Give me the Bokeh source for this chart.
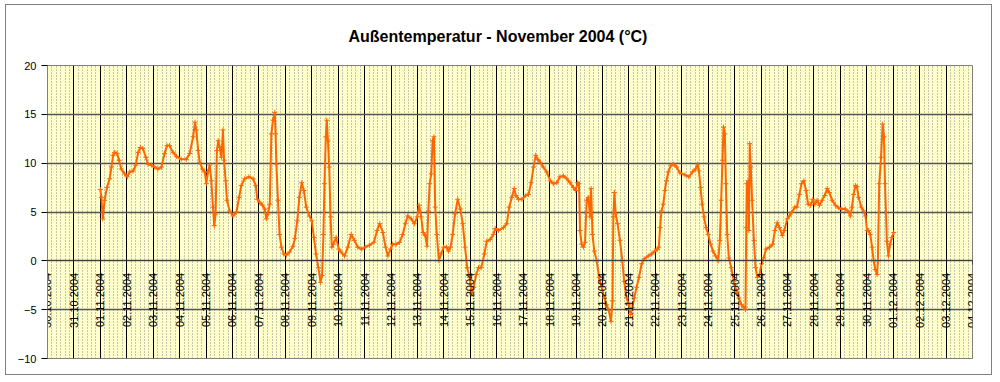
import math
from bokeh.plotting import figure
from bokeh.models import FixedTicker, Range1d
from bokeh.embed import file_html
from bokeh.resources import INLINE

# Category labels of the x axis (one per day, 30.10.2004 ... 04.12.2004)
day_labels = [
    "30.10.2004", "31.10.2004",
    "01.11.2004", "02.11.2004", "03.11.2004", "04.11.2004", "05.11.2004",
    "06.11.2004", "07.11.2004", "08.11.2004", "09.11.2004", "10.11.2004",
    "11.11.2004", "12.11.2004", "13.11.2004", "14.11.2004", "15.11.2004",
    "16.11.2004", "17.11.2004", "18.11.2004", "19.11.2004", "20.11.2004",
    "21.11.2004", "22.11.2004", "23.11.2004", "24.11.2004", "25.11.2004",
    "26.11.2004", "27.11.2004", "28.11.2004", "29.11.2004", "30.11.2004",
    "01.12.2004", "02.12.2004", "03.12.2004", "04.12.2004",
]

# Measurement time as fractional day of November 2004 (1.0 = 01.11. 00:00)
tag = [
    1.00, 1.04, 1.09, 1.16, 1.25, 1.35, 1.42, 1.48, 1.54, 1.63, 1.71, 1.79, 1.92,
    2.02, 2.11, 2.24, 2.34, 2.43, 2.51, 2.61, 2.72, 2.80, 2.93,
    3.06, 3.18, 3.31, 3.43, 3.52, 3.62, 3.75, 3.88,
    4.06, 4.25, 4.38, 4.51, 4.58, 4.63, 4.70, 4.76, 4.86, 4.95,
    5.01, 5.07, 5.14, 5.20, 5.26, 5.31, 5.36, 5.41, 5.46, 5.52, 5.58, 5.64, 5.68,
    5.74, 5.79, 5.89,
    6.02, 6.15, 6.25, 6.33, 6.46, 6.62, 6.78, 6.88, 6.94,
    7.03, 7.13, 7.22, 7.28, 7.34, 7.41, 7.47, 7.53, 7.60, 7.63, 7.66, 7.72, 7.78,
    7.85, 7.94,
    8.04, 8.16, 8.29, 8.36, 8.45, 8.53, 8.62, 8.70, 8.79, 8.91,
    9.00, 9.08, 9.16, 9.25, 9.33, 9.39, 9.44, 9.48, 9.53, 9.57, 9.61, 9.66, 9.71,
    9.76, 9.82, 9.92,
    10.02, 10.11, 10.24, 10.36, 10.49, 10.61, 10.74, 10.89,
    11.02, 11.18, 11.35, 11.47, 11.57, 11.69, 11.79, 11.88, 11.98,
    12.06, 12.19, 12.32, 12.44, 12.54, 12.63, 12.76, 12.88, 12.99,
    13.06, 13.14, 13.21, 13.29, 13.36, 13.41, 13.46, 13.52, 13.57, 13.62, 13.67,
    13.73, 13.81, 13.89, 13.99,
    14.10, 14.17, 14.25, 14.33, 14.42, 14.52, 14.62, 14.71, 14.80, 14.88, 14.97,
    15.05, 15.13, 15.22, 15.31, 15.41, 15.53, 15.62, 15.75, 15.87, 15.94,
    16.06, 16.25, 16.38, 16.47, 16.57, 16.66, 16.72, 16.82, 16.95,
    17.10, 17.20, 17.30, 17.39, 17.47, 17.55, 17.64, 17.76, 17.89,
    18.02, 18.14, 18.27, 18.39, 18.52, 18.65, 18.77, 18.90, 18.99,
    19.06, 19.11, 19.15, 19.21, 19.28, 19.34, 19.40, 19.46, 19.53, 19.57, 19.62,
    19.69, 19.78, 19.87, 19.97,
    20.07, 20.16, 20.24, 20.32, 20.38, 20.41, 20.45, 20.50, 20.57, 20.66, 20.75,
    20.82, 20.91,
    21.00, 21.06, 21.13, 21.20, 21.29, 21.38, 21.48, 21.58, 21.73, 21.86, 21.98,
    22.08, 22.13, 22.18, 22.23, 22.30, 22.36, 22.42, 22.49, 22.59, 22.68, 22.80,
    22.93,
    23.12, 23.27, 23.40, 23.52, 23.60, 23.65, 23.71, 23.77, 23.84, 23.92,
    24.00, 24.09, 24.18, 24.28, 24.38, 24.44, 24.49, 24.54, 24.58, 24.63, 24.67,
    24.72, 24.78, 24.87, 24.97,
    25.06, 25.16, 25.26, 25.35, 25.41, 25.44, 25.46, 25.51, 25.54, 25.57, 25.61,
    25.66, 25.73, 25.79, 25.86, 25.94,
    26.02, 26.10, 26.19, 26.32, 26.44, 26.52, 26.61, 26.70, 26.80, 26.88, 26.99,
    27.07, 27.17, 27.28, 27.36, 27.45, 27.53, 27.62, 27.70, 27.78, 27.87, 27.96,
    28.03, 28.12, 28.21, 28.31, 28.41, 28.50, 28.58, 28.69, 28.81, 28.94,
    29.06, 29.19, 29.32, 29.38, 29.44, 29.50, 29.57, 29.63, 29.69, 29.79, 29.88,
    29.95,
    30.01, 30.07, 30.13, 30.20, 30.26, 30.32, 30.39, 30.42, 30.47, 30.54, 30.60,
    30.65, 30.69, 30.76, 30.82, 30.88, 30.95, 31.02,
]

# Outside temperature in °C
temp = [
    7.3, 6.5, 4.3, 6.2, 7.5, 8.4, 9.6, 10.8, 11.1, 11.0, 10.3, 9.4, 8.9,
    8.6, 9.1, 9.2, 9.8, 11.1, 11.6, 11.5, 10.6, 9.9, 9.8,
    9.6, 9.4, 9.6, 11.0, 11.8, 11.8, 11.1, 10.7,
    10.4, 10.4, 11.0, 12.7, 14.2, 13.4, 11.3, 10.1, 9.4, 9.1,
    7.9, 9.1, 9.8, 8.2, 5.5, 3.6, 4.8, 11.3, 12.3, 11.6, 10.6, 13.4, 10.3,
    8.2, 6.2, 5.1,
    4.6, 5.0, 6.5, 7.7, 8.4, 8.6, 8.4, 7.7, 6.3,
    6.0, 5.7, 5.3, 4.3, 4.8, 5.8, 13.0, 14.4, 15.2, 13.0, 9.9, 6.2, 2.7,
    1.4, 0.7,
    0.6, 0.9, 1.5, 2.3, 4.1, 6.5, 8.0, 7.2, 5.5, 4.6,
    4.1, 2.4, 0.7, -0.7, -2.2, -1.5, 2.7, 7.9, 12.7, 14.4, 12.3, 9.6, 4.5,
    1.4, 1.7, 2.4,
    1.2, 0.9, 0.5, 1.4, 2.7, 2.1, 1.4, 1.2,
    1.4, 1.6, 1.9, 3.1, 3.8, 2.9, 1.4, 0.5, 1.2,
    1.7, 1.7, 1.9, 2.7, 3.8, 4.6, 4.3, 3.8, 4.5,
    5.7, 4.5, 2.9, 2.6, 1.5, 5.1, 7.9, 8.9, 12.3, 12.7, 5.5,
    2.7, 0.0, 0.7, 1.4,
    1.4, 1.0, 1.4, 2.7, 4.8, 6.3, 5.3, 3.8, 1.4, -0.7, -1.7,
    -3.4, -2.7, -1.4, -0.7, -0.7, 0.7, 2.0, 2.2, 2.7, 3.3,
    3.1, 3.4, 3.8, 5.5, 6.5, 7.4, 6.7, 6.3, 6.3,
    6.7, 6.8, 8.0, 9.6, 10.8, 10.4, 10.1, 9.6, 9.1,
    8.2, 7.9, 8.0, 8.6, 8.7, 8.4, 8.0, 7.5, 7.2,
    8.0, 7.9, 3.1, 1.7, 1.4, 1.9, 6.2, 6.5, 4.5, 7.4, 2.7,
    1.0, 0.0, -1.7, -2.7,
    -3.8, -4.5, -5.1, -6.2, -4.1, 4.5, 7.0, 4.8, 3.8, 2.1, 0.0,
    -2.1, -3.8,
    -4.5, -5.5, -4.8, -3.8, -2.7, -1.7, -0.3, 0.2, 0.5, 0.7, 1.0,
    1.2, 1.4, 3.4, 5.1, 5.8, 7.2, 8.2, 9.1, 9.8, 9.9, 9.6,
    9.0,
    8.8, 8.6, 9.1, 9.4, 9.9, 9.2, 7.5, 5.8, 4.5, 3.4,
    2.7, 1.7, 1.0, 0.5, 0.0, 2.1, 6.2, 10.3, 13.7, 13.0, 7.9,
    2.7, 0.3, -0.7, -2.1,
    -3.1, -3.8, -4.5, -4.8, -5.0, 3.4, 7.9, 8.2, 3.1, 12.0, 9.6,
    6.2, 2.1, -0.7, -1.7, -1.4,
    -0.3, 0.3, 1.2, 1.4, 1.7, 3.1, 3.9, 3.4, 2.6, 3.1, 4.3,
    4.6, 5.0, 5.5, 5.5, 6.8, 7.9, 8.2, 7.2, 5.8, 5.7, 6.3,
    5.8, 6.2, 5.7, 6.2, 6.7, 7.4, 7.0, 6.2, 5.7, 5.4,
    5.3, 5.3, 5.0, 4.6, 5.5, 6.8, 7.7, 7.6, 6.5, 5.5, 5.1,
    4.6,
    3.1, 3.1, 2.7, 1.4, 0.0, -0.9, -1.4, 0.0, 7.9, 10.6, 14.0,
    12.7, 7.9, 2.0, 0.5, 1.7, 2.4, 2.9,
]

y_ticks = [-10, -5, 0, 5, 10, 15, 20]
title_text = "Außentemperatur - November 2004 (°C)"

# position on the category axis: index 0 = 30.10.2004, so 01.11. 00:00 = 2
x_pos = [t + day_labels.index("01.11.2004") - 1 for t in tag]
n_days = len(day_labels) - 1

p = figure(
    width=987, height=371,
    x_range=Range1d(0, n_days), y_range=Range1d(y_ticks[0], y_ticks[-1]),
    output_backend="svg", toolbar_location=None,
    background_fill_color="#FFFFCC", border_fill_color="white",
    min_border_left=41, min_border_right=21, min_border_top=60, min_border_bottom=18,
    title=title_text,
)
p.styles = {"border": "1px solid #808080", "margin-left": "5px", "margin-top": "4px"}

p.title.align = "left"
p.title.offset = 301
p.title.standoff = 41
p.title.text_font = "Liberation Sans"
p.title.text_font_size = "16px"
p.title.text_font_style = "bold"
p.title.text_color = "black"

x_ticker = FixedTicker(ticks=list(range(len(day_labels))),
                       minor_ticks=[i / 6 for i in range(n_days * 6 + 1)])
y_ticker = FixedTicker(ticks=y_ticks, minor_ticks=[])

xa = p.xaxis[0]
xa.ticker = x_ticker
xa.fixed_location = 0
xa.major_label_overrides = {i: s for i, s in enumerate(day_labels)}
xa.major_label_orientation = math.pi / 2
xa.major_label_text_font = "Liberation Sans"
xa.major_label_text_font_size = "11px"
xa.major_label_text_color = "black"
xa.major_tick_out = 4
xa.major_tick_in = 0
xa.major_label_standoff = 8
xa.minor_tick_line_color = None
xa.axis_line_color = "#404040"

ya = p.yaxis[0]
ya.ticker = y_ticker
ya.major_label_text_font = "Liberation Sans"
ya.major_label_text_font_size = "11px"
ya.major_label_text_color = "black"
ya.major_tick_out = 6
ya.major_tick_in = 0
ya.major_label_standoff = 5
ya.minor_tick_line_color = None
ya.axis_line_color = "#808080"

p.xgrid.ticker = x_ticker
p.xgrid.grid_line_color = "black"
p.xgrid.grid_line_width = 1
p.xgrid.minor_grid_line_color = "#8c8c8c"
p.xgrid.minor_grid_line_dash = "1 2"
p.xgrid.minor_grid_line_width = 1

p.ygrid.ticker = y_ticker
p.ygrid.grid_line_color = "#555555"
p.ygrid.grid_line_width = 1.5

p.outline_line_color = "#808080"

p.line(x_pos, temp, line_color="#FF6600", line_width=2)
p.scatter(x_pos, temp, marker="cross", size=5, line_color="#FF6600", line_width=1)

open("out.html", "w").write(file_html(p, INLINE))
